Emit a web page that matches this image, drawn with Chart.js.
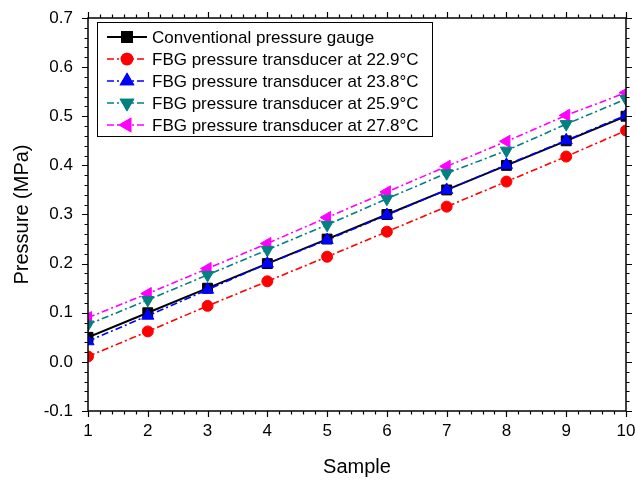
<!DOCTYPE html>
<html><head><meta charset="utf-8">
<script src="https://cdn.jsdelivr.net/npm/chart.js@4/dist/chart.umd.min.js"></script>
<style>html,body{margin:0;padding:0;background:#fff}#w{width:635px;height:481px}</style>
</head><body><div id="w"><canvas id="c" width="635" height="481"></canvas></div>
<script>
const samples = [1,2,3,4,5,6,7,8,9,10];
const conventional = [0.05,0.10,0.15,0.20,0.25,0.30,0.35,0.40,0.45,0.50];
const fbg229 = [0.011,0.062,0.114,0.164,0.214,0.265,0.316,0.367,0.418,0.471];
const fbg238 = [0.042,0.094,0.147,0.200,0.248,0.299,0.350,0.401,0.451,0.502];
const fbg259 = [0.076,0.126,0.177,0.228,0.279,0.332,0.384,0.430,0.484,0.535];
const fbg278 = [0.090,0.139,0.190,0.241,0.294,0.346,0.398,0.449,0.502,0.548];
const seriesLabels = ['Conventional pressure gauge','FBG pressure transducer at 22.9°C','FBG pressure transducer at 23.8°C','FBG pressure transducer at 25.9°C','FBG pressure transducer at 27.8°C'];
const xTitle = 'Sample';
const yTitle = 'Pressure (MPa)';

const FONT = '"Liberation Sans", Arial, sans-serif';
const DASH = [7,3,2,3];
const pts = arr => samples.map((s,i)=>({x:s,y:arr[i]}));
function ds(label, arr, color, style, radius, rotation, dashed){
  return {label, data: pts(arr), borderColor: color, backgroundColor: color,
    borderWidth: dashed?1.6:2, borderDash: dashed?DASH:[], pointStyle: style,
    pointRadius: radius, pointHoverRadius: radius, pointRotation: rotation,
    pointBorderWidth: 1, pointBackgroundColor: color, pointBorderColor: color, tension:0};
}
const datasets = [
  ds(seriesLabels[1], fbg229, '#FF0000', 'circle', 5.5, 0, true),
  ds(seriesLabels[2], fbg238, '#0000FF', 'triangle', 7, 0, true),
  ds(seriesLabels[3], fbg259, '#008080', 'triangle', 7, 180, true),
  ds(seriesLabels[4], fbg278, '#FF00FF', 'triangle', 7, 270, true),
  ds(seriesLabels[0], conventional, '#000000', 'rect', 7, 0, false)
];
const legendOrder = [4,0,1,2,3];

const framePlugin = {
  id:'frame',
  afterDraw(chart){
    const {ctx, chartArea:a, scales:{x,y}} = chart;
    ctx.save();
    ctx.strokeStyle='#000'; ctx.lineWidth=1.5; ctx.setLineDash([]);
    ctx.strokeRect(a.left,a.top,a.right-a.left,a.bottom-a.top);
    ctx.lineWidth=1.2;
    ctx.beginPath();
    for(let k=0;k<=45;k++){
      const v = 1 + k*0.2; const px = Math.round(x.getPixelForValue(v))+0.5;
      const len = (k%5===0)?6:3.5;
      ctx.moveTo(px,a.bottom); ctx.lineTo(px,a.bottom+len);
      ctx.moveTo(px,a.top); ctx.lineTo(px,a.top-len);
    }
    for(let k=0;k<=40;k++){
      const v = -0.1 + k*0.02; const py = Math.round(y.getPixelForValue(v))+0.5;
      const len = (k%5===0)?6:3.5;
      ctx.moveTo(a.left,py); ctx.lineTo(a.left-len,py);
      ctx.moveTo(a.right,py); ctx.lineTo(a.right+len,py);
    }
    ctx.stroke();
    // legend
    const lx = a.left+9, ly = a.top+4, lw = 335, lh = 114;
    ctx.fillStyle='#fff'; ctx.fillRect(lx,ly,lw,lh);
    ctx.strokeStyle='#000'; ctx.lineWidth=1; ctx.strokeRect(lx+0.5,ly+0.5,lw,lh);
    ctx.font = '17px '+FONT; ctx.textBaseline='middle'; ctx.textAlign='left';
    legendOrder.forEach((di,i)=>{
      const d = chart.data.datasets[di];
      const cy = ly + 15 + i*22;
      ctx.strokeStyle = d.borderColor; ctx.lineWidth = d.borderWidth;
      ctx.setLineDash(d.borderDash);
      ctx.beginPath(); ctx.moveTo(lx+10,cy); ctx.lineTo(lx+50,cy); ctx.stroke();
      ctx.setLineDash([]);
      Chart.helpers.drawPoint(ctx,{pointStyle:d.pointStyle, radius:d.pointRadius, rotation:d.pointRotation, borderWidth:1}, lx+30, cy);
      ctx.fillStyle = d.borderColor; ctx.fill(); ctx.stroke();
      ctx.fillStyle='#000';
      ctx.fillText(d.label, lx+55, cy+1);
    });
    ctx.restore();
  }
};

new Chart(document.getElementById('c'), {
  type:'line',
  data:{datasets},
  plugins:[framePlugin],
  options:{
    responsive:false, animation:false, devicePixelRatio:1,
    layout:{padding:{top:18,right:9,left:0,bottom:0}},
    plugins:{legend:{display:false}, tooltip:{enabled:false}},
    scales:{
      x:{type:'linear', min:1, max:10,
        grid:{display:false, drawTicks:false}, border:{display:false},
        ticks:{stepSize:1, color:'#000', font:{family:FONT,size:17}, padding:10, maxRotation:0},
        title:{display:true, text:xTitle, color:'#000', font:{family:FONT,size:20}, padding:{top:0,bottom:2}},
        afterFit: s=>{ s.height = 70; s.paddingLeft = 0; s.paddingRight = 0; }
      },
      y:{type:'linear', min:-0.1, max:0.7,
        grid:{display:false, drawTicks:false}, border:{display:false},
        ticks:{stepSize:0.1, color:'#000', font:{family:FONT,size:17}, padding:15,
          callback: v => (Math.abs(v)<1e-9 ? 0 : Number(v)).toFixed(1)},
        title:{display:true, text:yTitle, color:'#000', font:{family:FONT,size:20}, padding:{top:10,bottom:0}},
        afterFit: s=>{ s.width = 88; s.paddingTop = 0; s.paddingBottom = 0; }
      }
    }
  }
});
</script></body></html>
